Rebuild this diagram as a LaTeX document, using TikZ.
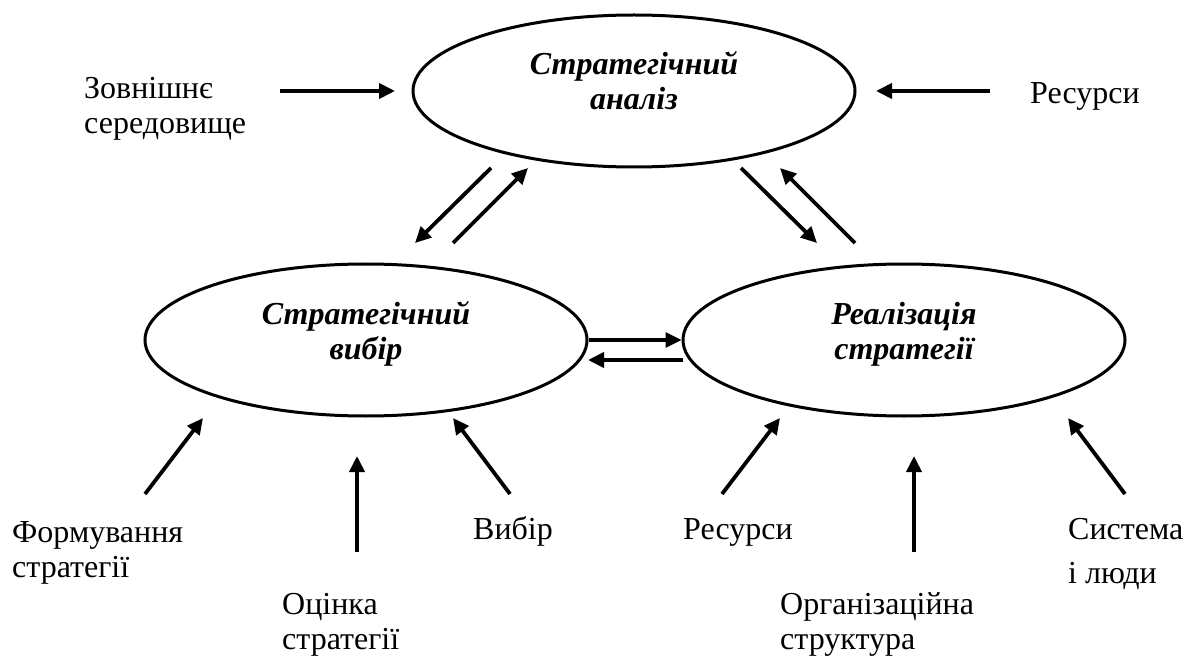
\documentclass[tikz,border=0pt]{standalone}
\usepackage{fontspec}
\setmainfont{Liberation Serif}
\usetikzlibrary{shapes.geometric,arrows.meta}
\newcommand\elltext[2]{\raisebox{0pt}[57pt][19pt]{\begin{tabular}[b]{@{}c@{}}#1\\#2\end{tabular}}}
\begin{document}
\begin{tikzpicture}[x=1pt,y=-1pt,
  ell/.style={draw,line width=3pt,ellipse,minimum width=442pt,minimum height=152pt,
    inner sep=0pt,font=\fontsize{32}{35}\selectfont\bfseries\itshape},
  lbl/.style={inner sep=0pt,align=left,anchor=base west,font=\fontsize{32}{35}\selectfont},
  arr/.style={line width=3.8pt,-{Triangle[length=16pt,width=15pt]}}]
\useasboundingbox (0,0) rectangle (1196,660);
% ellipses
\node[ell] (an) at (634,91) {\elltext{Стратегічний}{аналіз}};
\node[ell] (ch) at (366,340) {\elltext{Стратегічний}{вибір}};
\node[ell] (re) at (904,340) {\elltext{Реалізація}{стратегії}};
% labels (anchor = baseline of the last line)
\node[lbl] (env)  at (84,134)   {Зовнішнє\\середовище};
\node[lbl] (res1) at (1030,104) {Ресурси};
\node[lbl] (form) at (12,577)   {Формування\\стратегії};
\node[lbl] (eval) at (282,649)  {Оцінка\\стратегії};
\node[lbl] (vyb)  at (473,539)  {Вибір};
\node[lbl] (res2) at (683,539)  {Ресурси};
\node[lbl] (org)  at (780,649)  {Організаційна\\структура};
\node[lbl] (sys)  at (1068,583) {Система\\[9pt]і люди};
% coordinates
\coordinate (env-o) at (280,91);   \coordinate (an-w)  at (395,91);
\coordinate (res1-o) at (990,91);  \coordinate (an-e)  at (876,91);
\coordinate (a1s) at (491,168);    \coordinate (a1e) at (415,243);
\coordinate (a2s) at (453,243);    \coordinate (a2e) at (528,168);
\coordinate (a3s) at (741,168);    \coordinate (a3e) at (817,243);
\coordinate (a4s) at (855,243);    \coordinate (a4e) at (780,168);
\coordinate (h2s) at (683,360);    \coordinate (h2e) at (588,360);
\coordinate (form-o) at (145,494); \coordinate (form-i) at (203,418);
\coordinate (eval-o) at (357,552); \coordinate (eval-i) at (357,456);
\coordinate (vyb-o) at (510,494);  \coordinate (vyb-i) at (453,418);
\coordinate (res2-o) at (722,494); \coordinate (res2-i) at (780,418);
\coordinate (org-o) at (914,552);  \coordinate (org-i) at (914,456);
\coordinate (sys-o) at (1125,494); \coordinate (sys-i) at (1068,418);
% arrows
\draw[arr] (env-o) -- (an-w);
\draw[arr] (res1-o) -- (an-e);
\draw[arr] (a1s) -- (a1e);
\draw[arr] (a2s) -- (a2e);
\draw[arr] (a3s) -- (a3e);
\draw[arr] (a4s) -- (a4e);
\draw[arr,line width=3.3pt] (ch.east) -- (re.west);
\draw[arr] (h2s) -- (h2e);
\draw[arr] (form-o) -- (form-i);
\draw[arr] (eval-o) -- (eval-i);
\draw[arr] (vyb-o) -- (vyb-i);
\draw[arr] (res2-o) -- (res2-i);
\draw[arr] (org-o) -- (org-i);
\draw[arr] (sys-o) -- (sys-i);
\end{tikzpicture}
\end{document}
